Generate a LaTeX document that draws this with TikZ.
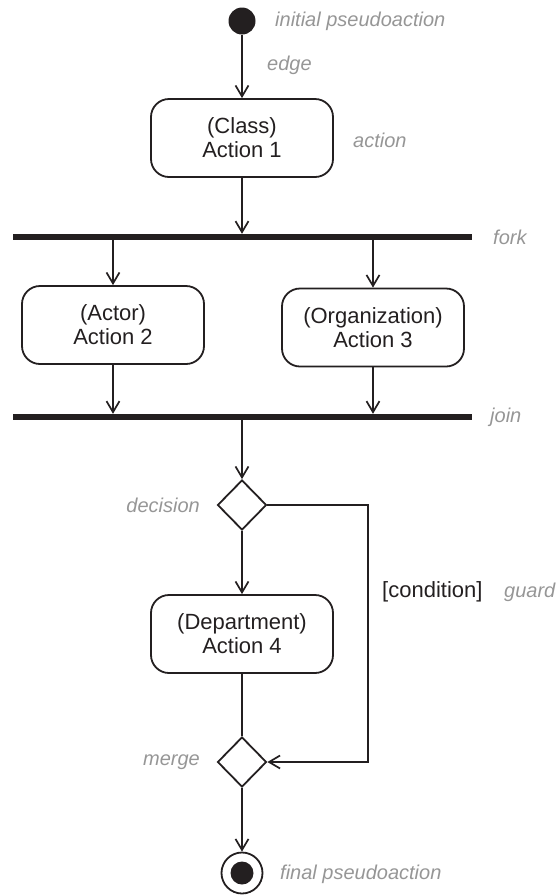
\documentclass[tikz,border=0pt]{standalone}
\usepackage{fontspec}
\setmainfont{Liberation Sans}
\usetikzlibrary{arrows.meta,shapes.geometric}
\definecolor{FlowInk}{HTML}{231F20}
\definecolor{FlowNote}{HTML}{969696}

\begin{document}
\begin{tikzpicture}[x=1pt,y=-1pt,
    action/.style={draw=FlowInk, line width=1.8pt, rounded corners=18pt, minimum width=182pt, minimum height=78pt, align=center, text=FlowInk, font=\fontsize{22pt}{24pt}\selectfont},
    syncbar/.style={fill=FlowInk, inner sep=0pt, minimum width=459pt, minimum height=6pt},
    choice/.style={diamond, draw=FlowInk, line width=1.8pt, inner sep=0pt, minimum width=49pt, minimum height=50pt},
    flow/.style={draw=FlowInk, line width=1.7pt, -{Straight Barb[length=11pt,width=13pt]}},
    plain/.style={draw=FlowInk, line width=1.7pt},
    note/.style={text=FlowNote, inner sep=0pt, font=\fontsize{20pt}{24pt}\selectfont\itshape}]
  \useasboundingbox (0,0) rectangle (559,895);
  \node[circle, fill=FlowInk, inner sep=0pt, minimum size=27pt] (init) at (242,21) {};
  \node[action] (act1) at (242,138) {(Class)\\Action 1};
  \node[syncbar] (fork) at (242.5,237) {};
  \node[action] (act2) at (113,325) {(Actor)\\Action 2};
  \node[action] (act3) at (373,327.5) {(Organization)\\Action 3};
  \node[syncbar] (join) at (242.5,417) {};
  \node[choice] (decision) at (242,505) {};
  \node[action] (act4) at (242,634) {(Department)\\Action 4};
  \node[choice] (merge) at (242,762) {};
  \node[circle, draw=FlowInk, line width=1.8pt, inner sep=0pt, minimum size=41pt] (final) at (242,873) {};
  \fill[FlowInk] (final.center) circle (11.5);
  \coordinate (loop) at (368,505);

  \draw[flow] (init) -- (act1);
  \draw[flow] (act1) -- (act1 |- fork.north);
  \draw[flow] (fork.south -| act2.north) -- (act2);
  \draw[flow] (fork.south -| act3.north) -- (act3);
  \draw[flow] (act2) -- (act2 |- join.north);
  \draw[flow] (act3) -- (act3 |- join.north);
  \draw[flow] (join.south -| decision.north) -- (decision);
  \draw[flow] (decision) -- (act4);
  \draw[plain] (act4) -- (merge);
  \draw[flow] (decision.east) -- (loop) |- (merge.east);
  \draw[flow] (merge) -- (final);

  \node[note, anchor=west] (initlbl) at (275,21) {initial pseudoaction};
  \node[note, anchor=west] (edgelbl) at (267,65) {edge};
  \node[note, anchor=west] (actlbl) at (353,140) {action};
  \node[note, anchor=west] (forklbl) at (493,237) {fork};
  \node[note, anchor=west] (joinlbl) at (490,417) {join};
  \node[note, anchor=east] (declbl) at (200,505) {decision};
  \node[anchor=west, inner sep=0pt, text=FlowInk, font=\fontsize{22pt}{24pt}\selectfont] (cond) at (382,592) {[condition]};
  \node[note, anchor=west] (guardlbl) at (504,592) {guard};
  \node[note, anchor=east] (mergelbl) at (200,762) {merge};
  \node[note, anchor=west] (finallbl) at (280,874) {final pseudoaction};
\end{tikzpicture}
\end{document}
